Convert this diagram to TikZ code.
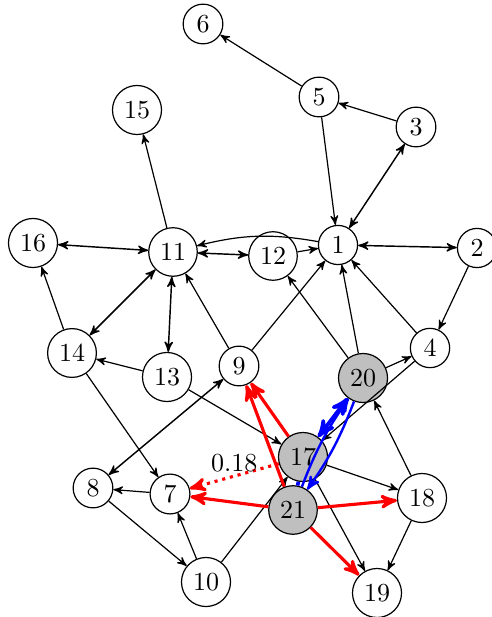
\documentclass[tikz,border=0pt]{standalone}
\usetikzlibrary{arrows}
\begin{document}
\begin{tikzpicture}[x=0.0146cm,y=-0.0146cm,>=stealth',
		vert/.style={circle,draw,fill=white,line width=0.5pt,inner sep=2.6pt,font=\fontsize{10.8}{13}\selectfont},
		hit/.style={vert,fill=lightgray},
		edge/.style={->,line width=0.5pt},
		both/.style={<->,line width=0.6pt},
		redge/.style={->,red,line width=1.3pt},
		bedge/.style={->,blue,line width=1pt}]
		\useasboundingbox (0,0) rectangle (491,617);
		
		%Upper nodes
		\node[vert] (n6) at (203,24) {6};
		\node[vert] (n5) at (319,97) {5};
		\node[vert] (n3) at (416,127) {3};
		\node[vert] (n15) at (137,110) {15};
		
		%Middle row
		\node[vert] (n16) at (33,243) {16};
		\node[vert] (n11) at (173,252) {11};
		\node[vert] (n12) at (273,256) {12};
		\node[vert] (n1) at (338,245) {1};
		\node[vert] (n2) at (477,248) {2};
		
		\node[vert] (n14) at (72,353) {14};
		\node[vert] (n13) at (167,377) {13};
		\node[vert] (n9) at (239,366) {9};
		\node[hit] (n20) at (363,378) {20};
		\node[vert] (n4) at (430,348) {4};
		
		%Lower nodes
		\node[hit] (n17) at (303,457) {17};
		\node[hit] (n21) at (293,510) {21};
		\node[vert] (n8) at (93,488) {8};
		\node[vert] (n7) at (170,494) {7};
		\node[vert] (n18) at (422,498) {18};
		\node[vert] (n10) at (206,582) {10};
		\node[vert] (n19) at (377,593) {19};
		
		%Black edges
		\draw[edge] (n5) -- (n6);
		\draw[edge] (n3) -- (n5);
		\draw[both] (n1) -- (n3);
		\draw[edge] (n5) -- (n1);
		\draw[edge] (n11) -- (n15);
		\draw[edge] (n1) to[bend right=12] (n11);
		\draw[both] (n16) -- (n11);
		\draw[both] (n11) -- (n12);
		\draw[edge] (n12) -- (n1);
		\draw[both] (n1) -- (n2);
		\draw[edge] (n2) -- (n4);
		\draw[both] (n11) -- (n14);
		\draw[both] (n11) -- (n13);
		\draw[edge] (n14) -- (n16);
		\draw[edge] (n9) -- (n11);
		\draw[edge] (n9) -- (n1);
		\draw[edge] (n20) -- (n12);
		\draw[edge] (n20) -- (n1);
		\draw[edge] (n4) -- (n1);
		\draw[edge] (n20) -- (n4);
		\draw[edge] (n13) -- (n14);
		\draw[edge] (n4) -- (n17);
		\draw[edge] (n18) -- (n20);
		\draw[edge] (n13) -- (n17);
		\draw[edge] (n14) -- (n7);
		\draw[both] (n8) -- (n9);
		\draw[edge] (n7) -- (n8);
		\draw[edge] (n8) -- (n10);
		\draw[edge] (n10) -- (n7);
		\draw[edge] (n10) -- (n17);
		\draw[edge] (n17) -- (n18);
		\draw[edge] (n17) -- (n19);
		\draw[edge] (n18) -- (n19);
		
		%Blue edges
		\draw[bedge,<->,line width=1.5pt] (n17) -- (n20);
		\draw[bedge] (n21) to[bend left=7] (n20);
		\draw[bedge] (n20) to[bend left=7] (n21);
		\draw[blue,line width=1.5pt] (n21) -- (n17);
		
		%Red edges
		\draw[redge] (n17) -- (n9);
		\draw[redge] (n21) -- (n9);
		\draw[redge] (n21) -- (n7);
		\draw[redge] (n21) -- (n18);
		\draw[redge] (n21) -- (n19);
		\draw[redge,dash pattern=on 1.3pt off 2pt] (n17) -- node[midway,above,inner sep=1pt,text=black,font=\fontsize{10.8}{13}\selectfont] {0.18} (n7);
	\end{tikzpicture}
\end{document}
